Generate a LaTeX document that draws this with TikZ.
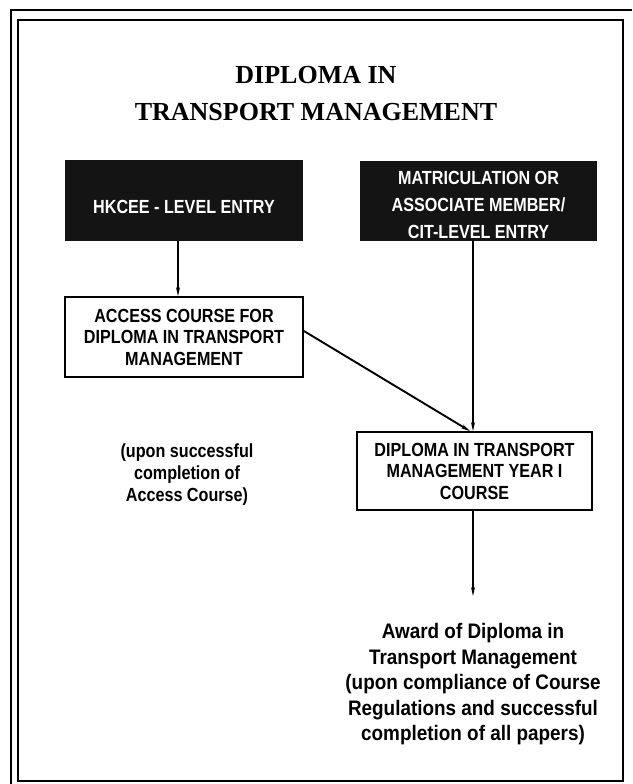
\documentclass[tikz,border=0pt]{standalone}
\usepackage{fontspec}
\setmainfont{Liberation Serif}
\newfontfamily\condfont[FakeStretch=0.85]{Liberation Sans}
\newfontfamily\awardfont[FakeStretch=0.9]{Liberation Sans}
\usetikzlibrary{arrows.meta}

\begin{document}
\begin{tikzpicture}
  [
  x=1pt,y=-1pt,
  entry/.style={rectangle,fill=black!92,inner sep=0pt,
    minimum width=237pt,minimum height=80pt},
  entrytext/.style={text=white,align=center,inner sep=0pt,yshift=-4pt,
    font=\condfont\bfseries\fontsize{19}{27}\selectfont},
  course/.style={rectangle,draw,line width=1.8pt,inner sep=0pt,
    minimum width=236pt,minimum height=78pt,align=center,
    font=\condfont\bfseries\fontsize{19}{21.5}\selectfont},
  note/.style={align=center,inner sep=0pt,
    font=\condfont\bfseries\fontsize{19}{22}\selectfont},
  link/.style={line width=1.4pt},
  arrow/.style={link,-{Stealth[length=9pt,width=4pt]}}
  ]
  \useasboundingbox [fill=white] (0,0) rectangle (632,784);

  % frame
  \draw [line width=1.8pt] (11,784) -- (11,10) -- (632,10);
  \draw [line width=1.6pt] (18,20) rectangle (623,781);

  \node (title) at (316,93.5) [align=center,inner sep=0pt,
    font=\bfseries\fontsize{26}{37}\selectfont]
    {DIPLOMA IN\\TRANSPORT MANAGEMENT};

  \node (hkcee) at (184,200.5) [entry,minimum width=238pt,minimum height=81pt,
    label={[entrytext,yshift=-2pt]center:HKCEE - LEVEL ENTRY}] {};
  \node (matric) at (478.5,201) [entry,
    label={[entrytext]center:{MATRICULATION OR\\ASSOCIATE MEMBER/\\CIT-LEVEL ENTRY}}] {};

  \node (access) at (184,337) [course,minimum width=238pt,minimum height=80pt]
    {ACCESS COURSE FOR\\DIPLOMA IN TRANSPORT\\MANAGEMENT};
  \node (diploma) at (474.5,471) [course,minimum width=235pt]
    {DIPLOMA IN TRANSPORT\\MANAGEMENT YEAR I\\COURSE};

  \node (upon) at (187,474.5) [note]
    {(upon successful\\completion of\\Access Course)};

  \node (award) at (473,684.5) [note,font=\awardfont\bfseries\fontsize{21}{25.5}\selectfont]
    {Award of Diploma in\\Transport Management\\(upon compliance of Course\\Regulations and successful\\completion of all papers)};
  \coordinate (awardtip) at (473,596);

  \draw [arrow] ([xshift=-6pt]hkcee.south) to ([xshift=-6pt]access.north);
  \draw [arrow] ([xshift=-5.5pt]matric.south) to ([xshift=-1.5pt]diploma.north);
  \draw [arrow,line width=1.9pt] ([yshift=6pt]access.east) to ([xshift=-4.5pt]diploma.north);
  \draw [arrow] ([xshift=-1.5pt]diploma.south) to (awardtip);
\end{tikzpicture}
\end{document}
